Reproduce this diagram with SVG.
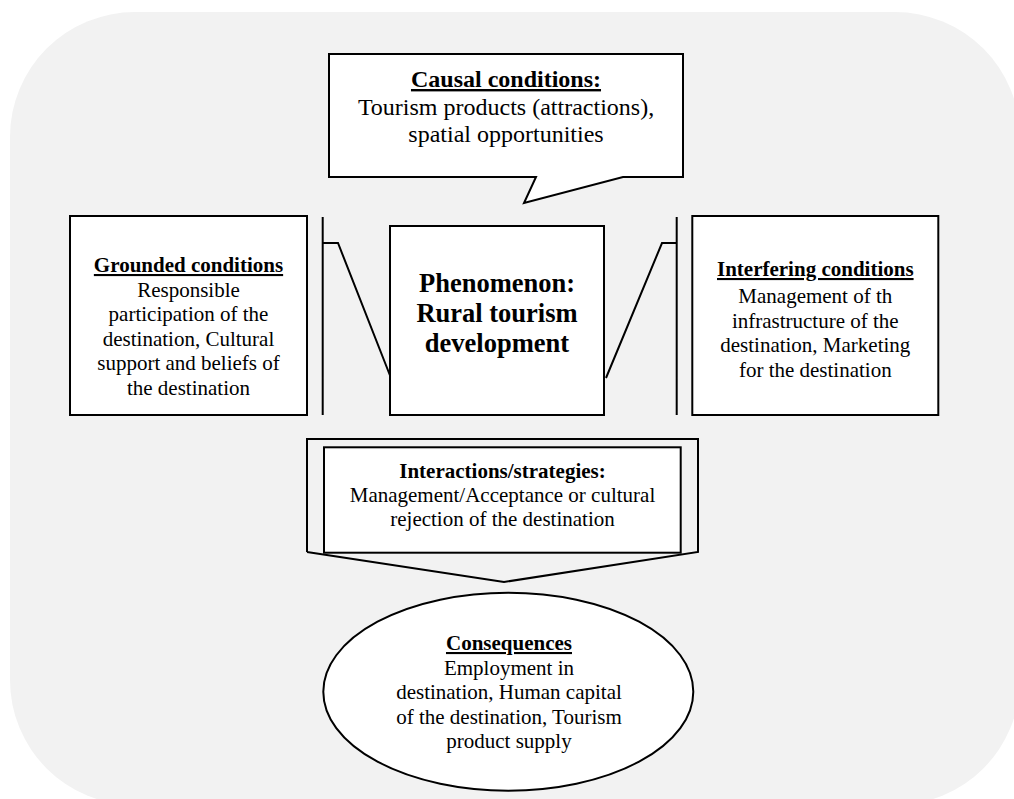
<svg xmlns="http://www.w3.org/2000/svg" width="1014" height="799" viewBox="0 0 1014 799">
<style>
text{font-family:"Liberation Serif","Times New Roman",serif;fill:#000;text-anchor:middle}
.r{font-size:21px}
.c{font-size:24px}
.b{font-weight:bold}
.u{text-decoration:underline}
.box{fill:#fff;stroke:#000;stroke-width:2}
.ln{fill:none;stroke:#000;stroke-width:2}
</style>
<rect x="10" y="12" width="1010" height="793" rx="125" ry="125" fill="#f2f2f2"/>
<g id="connectors">
<path class="ln" d="M322.7 217 V415 M322.7 243 H338 L391 378"/>
<path class="ln" d="M676.7 217 V415 M676.7 243 H662 L606 378"/>
<path class="ln" d="M307 552 V439 H699 M698 439 V552 L504 582 L307 552"/>
</g>
<g id="causal">
<path class="box" d="M329 54 H683 V177 H623 L524 203 L536 177 H329 Z"/>
<text class="c b u" x="506" y="87">Causal conditions:</text>
<text class="c" x="506" y="115">Tourism products (attractions),</text>
<text class="c" x="506" y="142">spatial opportunities</text>
</g>
<g id="grounded">
<rect class="box" x="70" y="216" width="237" height="199"/>
<text class="r b u" x="188.5" y="272">Grounded conditions</text>
<text class="r" x="188.5" y="296.5">Responsible</text>
<text class="r" x="188.5" y="321">participation of the</text>
<text class="r" x="188.5" y="345.5">destination, Cultural</text>
<text class="r" x="188.5" y="370">support and beliefs of</text>
<text class="r" x="188.5" y="394.5">the destination</text>
</g>
<g id="phenomenon">
<rect class="box" x="390" y="226" width="214" height="189"/>
<text class="b" style="font-size:26.5px" x="497" y="292">Phenomenon:</text>
<text class="b" style="font-size:26.5px" x="497" y="322">Rural tourism</text>
<text class="b" style="font-size:26.5px" x="497" y="352">development</text>
</g>
<g id="interfering">
<rect class="box" x="692.3" y="216" width="246" height="199"/>
<text class="r b u" x="815.3" y="276">Interfering conditions</text>
<text class="r" x="815.3" y="303">Management of th</text>
<text class="r" x="815.3" y="327.5">infrastructure of the</text>
<text class="r" x="815.3" y="352">destination, Marketing</text>
<text class="r" x="815.3" y="376.5">for the destination</text>
</g>
<g id="interactions">
<rect class="box" x="324" y="447.3" width="356.7" height="105.4"/>
<text class="r b" x="502.5" y="478">Interactions/strategies:</text>
<text class="r" x="502.5" y="502">Management/Acceptance or cultural</text>
<text class="r" x="502.5" y="526">rejection of the destination</text>
</g>
<g id="consequences">
<ellipse class="box" cx="508.3" cy="691.7" rx="185" ry="99"/>
<text class="r b u" x="509" y="650">Consequences</text>
<text class="r" x="509" y="675">Employment in</text>
<text class="r" x="509" y="699.3">destination, Human capital</text>
<text class="r" x="509" y="723.5">of the destination, Tourism</text>
<text class="r" x="509" y="748">product supply</text>
</g>
</svg>
